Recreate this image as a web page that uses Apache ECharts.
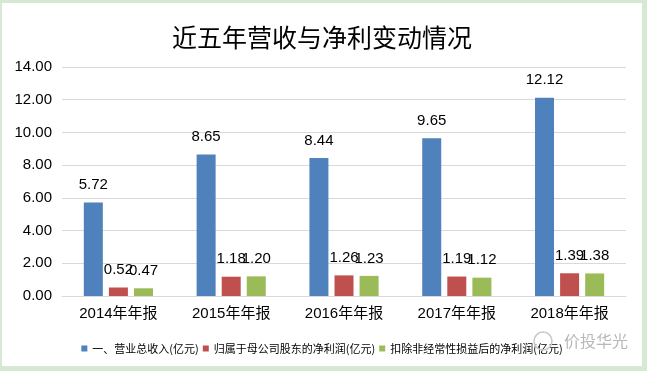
<!DOCTYPE html>
<html><head><meta charset="utf-8">
<script src="https://cdn.jsdelivr.net/npm/echarts@6/dist/echarts.min.js"></script>
<style>
html,body{margin:0;padding:0;width:647px;height:371px;background:#d6e9d2;overflow:hidden;}
#c{position:absolute;left:2px;top:3px;width:640px;height:363px;background:#fff;}
</style></head>
<body><div id="c"></div>
<script>
const title = '近五年营收与净利变动情况';
const categories = ['2014年年报','2015年年报','2016年年报','2017年年报','2018年年报'];
const seriesNames = ['一、营业总收入(亿元)','归属于母公司股东的净利润(亿元)','扣除非经常性损益后的净利润(亿元)'];
const revenue = [5.72, 8.65, 8.44, 9.65, 12.12];
const netProfit = [0.52, 1.18, 1.26, 1.19, 1.39];
const netProfitDeducted = [0.47, 1.20, 1.23, 1.12, 1.38];
const colors = ['#4f81bd','#c0504d','#9bbb59'];
const FONT = '"Liberation Sans", "Noto Sans CJK SC", sans-serif';

const chart = echarts.init(document.getElementById('c'), null, {renderer:'canvas'});
const mk = (name, data, color) => ({
  name, type:'bar', data, barWidth:19, barGap:'32%',
  itemStyle:{color},
  label:{show:true, position:'top', distance:10, color:'#000', fontSize:15, fontFamily:FONT,
    formatter:p=>p.value.toFixed(2)}
});
chart.setOption({
  backgroundColor:'#fff',
  animation:false,
  title:{text:title, left:'center', top:17, textStyle:{fontSize:25, fontWeight:'normal', color:'#000', fontFamily:'"Noto Sans CJK SC", sans-serif'}},
  legend:{data:seriesNames, left:'center', top:335, itemWidth:6, itemHeight:6, itemGap:4, icon:'rect',
    textStyle:{fontSize:11, color:'#000', fontFamily:'"Noto Sans CJK SC", sans-serif'}},
  grid:{left:60, right:16, top:64, bottom:70, containLabel:false},
  xAxis:{type:'category', data:categories,
    axisLine:{lineStyle:{color:'#d9d9d9'}}, axisTick:{show:false},
    axisLabel:{fontSize:15, color:'#000', margin:10, fontFamily:FONT}},
  yAxis:{type:'value', min:0, max:14, interval:2,
    axisLabel:{fontSize:15, color:'#000', margin:10, fontFamily:FONT, formatter:v=>v.toFixed(2)},
    splitLine:{lineStyle:{color:'#d9d9d9'}}, axisLine:{show:false}, axisTick:{show:false}},
  series:[mk(seriesNames[0], revenue, colors[0]), mk(seriesNames[1], netProfit, colors[1]), mk(seriesNames[2], netProfitDeducted, colors[2])],
  graphic:[
    {type:'circle', shape:{cx:541, cy:338, r:9}, style:{fill:'none', stroke:'#c8c8c8', lineWidth:1.5}, z:100},
    {type:'text', left:562, top:330, style:{text:'价投华光', fontSize:16, fill:'#b8b8b8', fontFamily:'"Noto Sans CJK SC", sans-serif'}, z:100}
  ]
});
</script></body></html>
